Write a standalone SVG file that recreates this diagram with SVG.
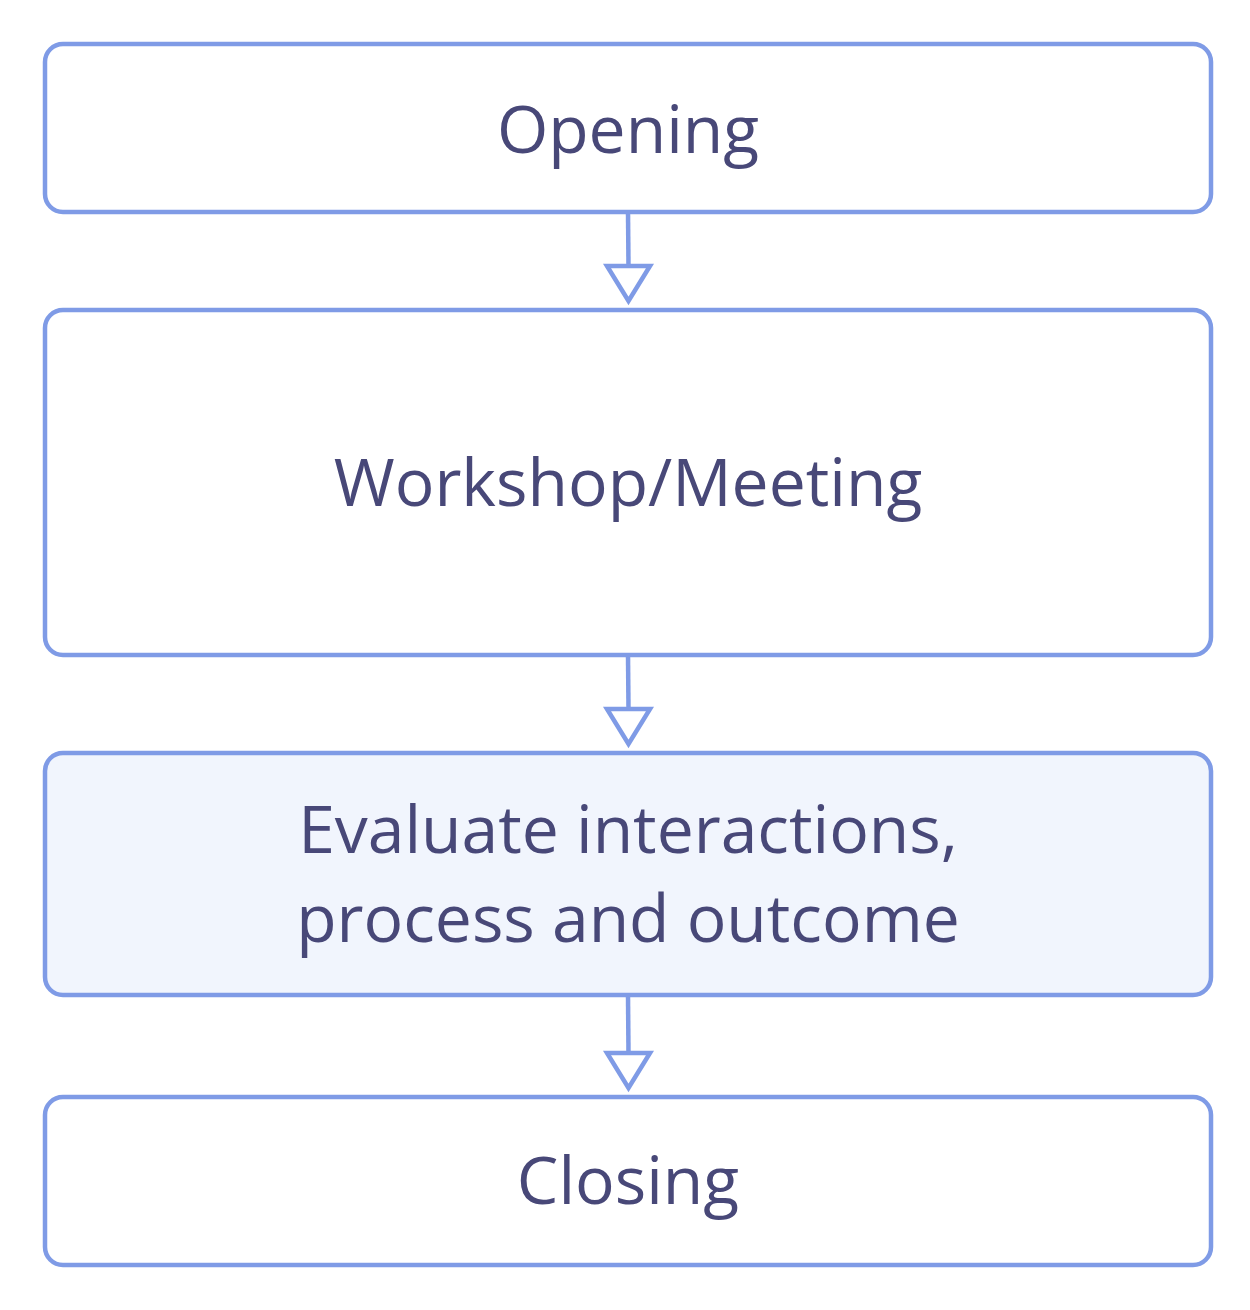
<svg xmlns="http://www.w3.org/2000/svg" width="1250" height="1310" viewBox="0 0 1250 1310">
<style>
.box{fill:#ffffff;stroke:#7f9be6;stroke-width:4.5}
.hl{fill:#f1f5fd}
.lbl{font-family:"Open Sans","Noto Sans",sans-serif;font-size:66px;fill:#484878;text-anchor:middle}
.edge{fill:none;stroke:#7f9be6;stroke-width:4.5}
.head{fill:#ffffff;stroke:#7f9be6;stroke-width:4.5}
</style>
<rect width="1250" height="1310" fill="#ffffff"/>
<g id="connectors">
<path class="edge" d="M628,212 L628.5,266"/>
<path class="head" d="M607,266 L650,266 L628.5,301 Z"/>
<path class="edge" d="M628,655 L628.5,709"/>
<path class="head" d="M607,709 L650,709 L628.5,744 Z"/>
<path class="edge" d="M628,995 L628.5,1053"/>
<path class="head" d="M607,1053 L650,1053 L628.5,1088 Z"/>
</g>
<g id="opening">
<rect class="box" x="45" y="44" width="1166" height="168" rx="18"/>
<text class="lbl" x="628" y="153">Opening</text>
</g>
<g id="workshop">
<rect class="box" x="45" y="310" width="1166" height="345" rx="18"/>
<text class="lbl" x="628" y="506">Workshop/Meeting</text>
</g>
<g id="evaluate">
<rect class="box hl" x="45" y="753" width="1166" height="242" rx="18"/>
<text class="lbl" x="628" y="853">Evaluate interactions,</text>
<text class="lbl" x="628" y="942">process and outcome</text>
</g>
<g id="closing">
<rect class="box" x="45" y="1097" width="1166" height="168" rx="18"/>
<text class="lbl" x="628" y="1204">Closing</text>
</g>
</svg>
